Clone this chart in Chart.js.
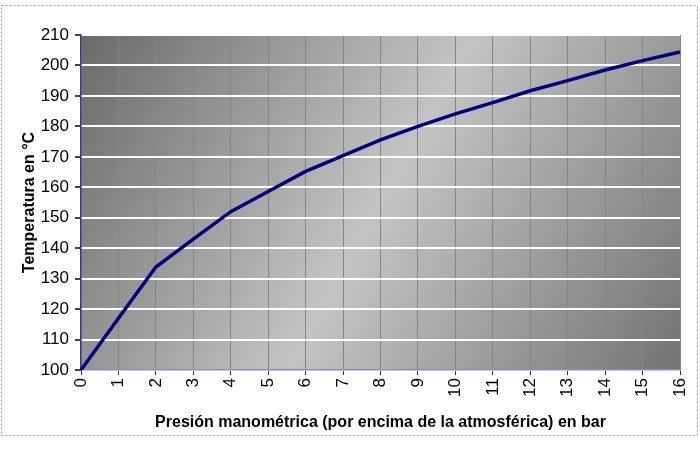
<!DOCTYPE html>
<html>
<head>
<meta charset="utf-8">
<script src="https://cdn.jsdelivr.net/npm/chart.js@4/dist/chart.umd.min.js"></script>
<style>
    html, body { margin: 0; padding: 0; background: #fff; }
    #wrap { width: 700px; height: 452px; position: relative; }
</style>
</head>
<body>
<div id="wrap"><canvas id="chart" width="700" height="452"></canvas></div>
<script>
const pressures = ["0", "1", "2", "3", "4", "5", "6", "7", "8", "9", "10", "11", "12", "13", "14", "15", "16"];
const temperatures = [100, 117, 133.8, 143, 152, 158.6, 165.2, 170.4, 175.6, 180, 184.1, 187.8, 191.7, 195, 198.5, 201.6, 204.4];
const yTicks = [100, 110, 120, 130, 140, 150, 160, 170, 180, 190, 200, 210];

const font = "'Liberation Sans', Arial, sans-serif";

// gradient background + frame, like the old spreadsheet chart
const plotBackground = {
    id: "plotBackground",
    beforeDraw(chart) {
        const { ctx, chartArea: a } = chart;
        const g = ctx.createLinearGradient(a.left, a.top, a.right, a.bottom);
        g.addColorStop(0, "#6a6a6a");
        g.addColorStop(0.5, "#c4c4c4");
        g.addColorStop(1, "#737373");
        ctx.save();
        ctx.fillStyle = g;
        ctx.fillRect(a.left, a.top, a.right - a.left, a.bottom - a.top);
        ctx.restore();
    },
    afterDraw(chart) {
        const { ctx } = chart;
        ctx.save();
        ctx.strokeStyle = "#9a9a9a";
        ctx.lineWidth = 1;
        ctx.setLineDash([2, 2]);
        ctx.strokeRect(1.5, 5.5, 696, 430);
        ctx.restore();
    }
};

new Chart(document.getElementById("chart"), {
    type: "line",
    data: {
        labels: pressures,
        datasets: [{
            data: temperatures,
            borderColor: "#000080",
            borderWidth: 3.5,
            pointRadius: 0,
            tension: 0,
            fill: false
        }]
    },
    options: {
        responsive: false,
        animation: false,
        layout: { padding: { top: 35, right: 20, left: 16, bottom: 16 } },
        plugins: {
            legend: { display: false },
            tooltip: { enabled: false }
        },
        scales: {
            x: {
                offset: false,
                afterFit(scale) {
                    scale.height = 66;
                    scale.paddingLeft = 0;
                    scale.paddingRight = 0;
                },
                grid: {
                    color: "#858585",
                    tickColor: "#333",
                    tickLength: 5,
                    lineWidth: 1
                },
                border: { color: "#8c8cc4", width: 1.5 },
                ticks: {
                    maxRotation: 90,
                    minRotation: 90,
                    color: "#000",
                    font: { family: font, size: 17 },
                    padding: 3
                },
                title: {
                    display: true,
                    text: "Presión manométrica (por encima de la atmosférica) en bar",
                    color: "#000",
                    font: { family: font, size: 16, weight: "bold" },
                    padding: { top: 6 }
                }
            },
            y: {
                min: 100,
                max: 210,
                afterFit(scale) { scale.width = 65; },
                afterBuildTicks(scale) { scale.ticks = yTicks.map(v => ({ value: v })); },
                grid: {
                    color: "#ffffff",
                    tickColor: "#444",
                    tickLength: 6,
                    lineWidth: 2
                },
                border: { color: "#3a3a8a", width: 1.5 },
                ticks: {
                    color: "#000",
                    font: { family: font, size: 17 },
                    padding: 6
                },
                title: {
                    display: true,
                    text: "Temperatura en °C",
                    color: "#000",
                    font: { family: font, size: 16, weight: "bold" },
                    padding: { bottom: 4 }
                }
            }
        }
    },
    plugins: [plotBackground]
});
</script>
</body>
</html>
